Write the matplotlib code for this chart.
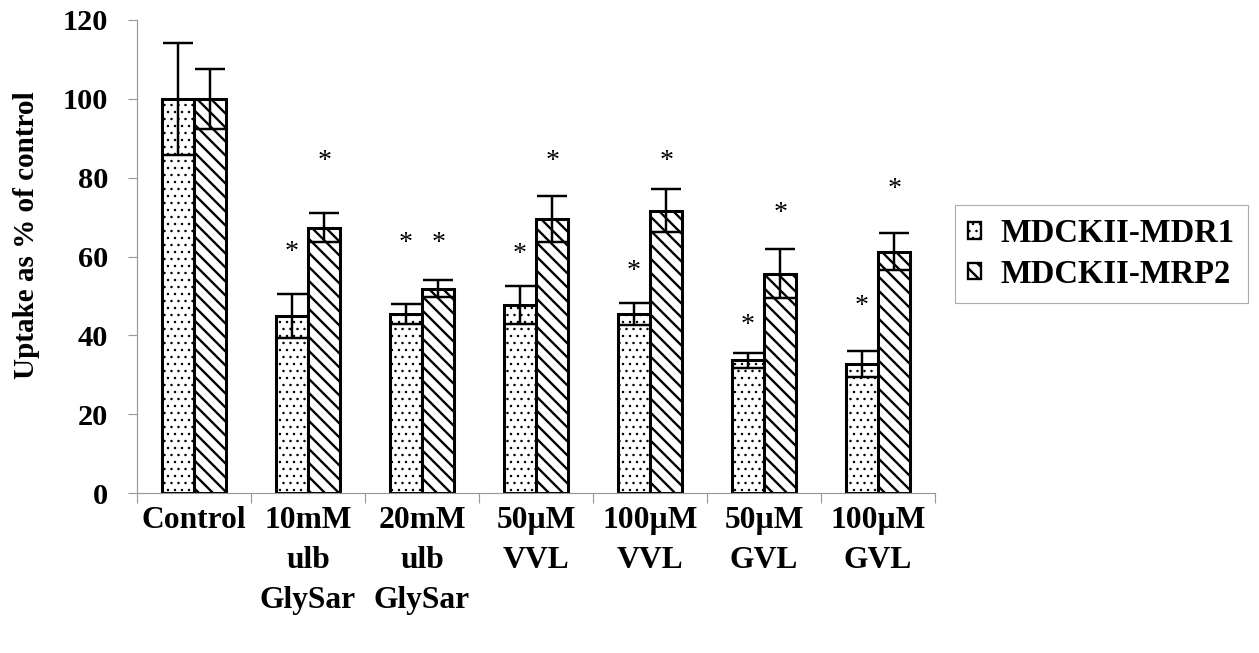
import numpy as np
import matplotlib
matplotlib.use("Agg")
import matplotlib.pyplot as plt

# Uptake data (% of control), mean and error for the two cell lines
groups = ['Control', '10mM\nulb\nGlySar', '20mM\nulb\nGlySar', '50µM\nVVL',
          '100µM\nVVL', '50µM\nGVL', '100µM\nGVL']
mdr1 = [100, 44.9, 45.4, 47.7, 45.4, 33.7, 32.7]
mdr1_err = [14.2, 5.5, 2.6, 4.8, 2.8, 1.9, 3.2]
mrp2 = [100, 67.3, 51.8, 69.5, 71.6, 55.6, 61.2]
mrp2_err = [7.6, 3.7, 2.2, 5.8, 5.5, 6.2, 4.7]

# heights of the significance asterisks (None = not significant)
star_y_mdr1 = [None, 60.9, 63.4, 60.4, 56.1, 42.6, 47.4]
star_y_mrp2 = [None, 84.0, 63.4, 84.0, 84.2, 71.0, 76.9]

plt.rcParams['font.family'] = ['Liberation Serif', 'DejaVu Serif']
plt.rcParams['font.weight'] = 'bold'
plt.rcParams['hatch.color'] = 'black'

DPI = 84
fig = plt.figure(figsize=(1259 / DPI, 653 / DPI), dpi=DPI)
ax = fig.add_axes([137 / 1259, 1 - 493 / 653, 798 / 1259, 473 / 653])

x = np.arange(len(groups))
w = 0.285
err_kw = dict(ecolor='black', elinewidth=2.1, capsize=13, capthick=2.1, zorder=4)


def hatch_lw(artists, lw):
    # hatch width is taken from rcParams when drawing, so wrap each draw
    for a in artists:
        if hasattr(a, 'set_hatch_linewidth'):
            a.set_hatch_linewidth(lw)
        orig = a.draw

        def draw(renderer, _orig=orig):
            with plt.rc_context({'hatch.linewidth': lw}):
                _orig(renderer)
        a.draw = draw


plt.rcParams['hatch.linewidth'] = 0.9
b1 = ax.bar(x - w / 2, mdr1, w, yerr=mdr1_err, color='white', edgecolor='black',
            linewidth=2.6, hatch='..', error_kw=err_kw, label='MDCKII-MDR1')
hatch_lw(b1, 0.9)
plt.rcParams['hatch.linewidth'] = 2.0
b2 = ax.bar(x + w / 2, mrp2, w, yerr=mrp2_err, color='white', edgecolor='black',
            linewidth=2.6, hatch='\\\\', error_kw=err_kw, label='MDCKII-MRP2')
hatch_lw(b2, 2.0)

# significance markers
for i in range(len(groups)):
    if star_y_mdr1[i] is not None:
        ax.text(x[i] - w / 2, star_y_mdr1[i], '*', ha='center', va='center',
                fontsize=24, fontweight='normal')
    if star_y_mrp2[i] is not None:
        ax.text(x[i] + w / 2, star_y_mrp2[i], '*', ha='center', va='center',
                fontsize=24, fontweight='normal')

ax.set_xlim(-0.5, len(groups) - 0.5)
ax.set_ylim(0, 120)
ax.set_yticks(np.arange(0, 121, 20))
ax.set_xticks(x)
ax.set_xticklabels(groups, fontsize=27, fontweight='bold', linespacing=1.5)
ax.set_xticks(np.arange(-0.5, len(groups), 1.0), minor=True)
ax.tick_params(axis='x', which='major', length=0, pad=11)
ax.tick_params(axis='x', which='minor', length=8.6, width=1, color='#999999')
ax.tick_params(axis='y', length=7.7, width=1, color='#999999', pad=17, labelsize=26)
for lbl in ax.get_yticklabels():
    lbl.set_fontweight('bold')

for side in ['top', 'right']:
    ax.spines[side].set_visible(False)
for side in ['left', 'bottom']:
    ax.spines[side].set_color('#999999')
    ax.spines[side].set_linewidth(1)

ax.set_ylabel('Uptake as % of control', fontsize=25, fontweight='bold', va='center')
ax.yaxis.set_label_coords(-0.138, 0.545)

leg = fig.legend(handles=[b1, b2], loc='upper left',
                 bbox_to_anchor=(955 / 1259, 1 - 205 / 653), borderaxespad=0,
                 prop={'size': 28, 'weight': 'bold'}, fancybox=False,
                 edgecolor='#999999', handlelength=0.4, handleheight=0.4,
                 handletextpad=0.6, labelspacing=0.3, borderpad=0.4)
leg.get_frame().set_linewidth(1)
for h in leg.legend_handles:
    h.set_linewidth(2)
hatch_lw(leg.legend_handles[:1], 0.9)
hatch_lw(leg.legend_handles[1:], 2.0)

fig.savefig('out.png', dpi=DPI)
